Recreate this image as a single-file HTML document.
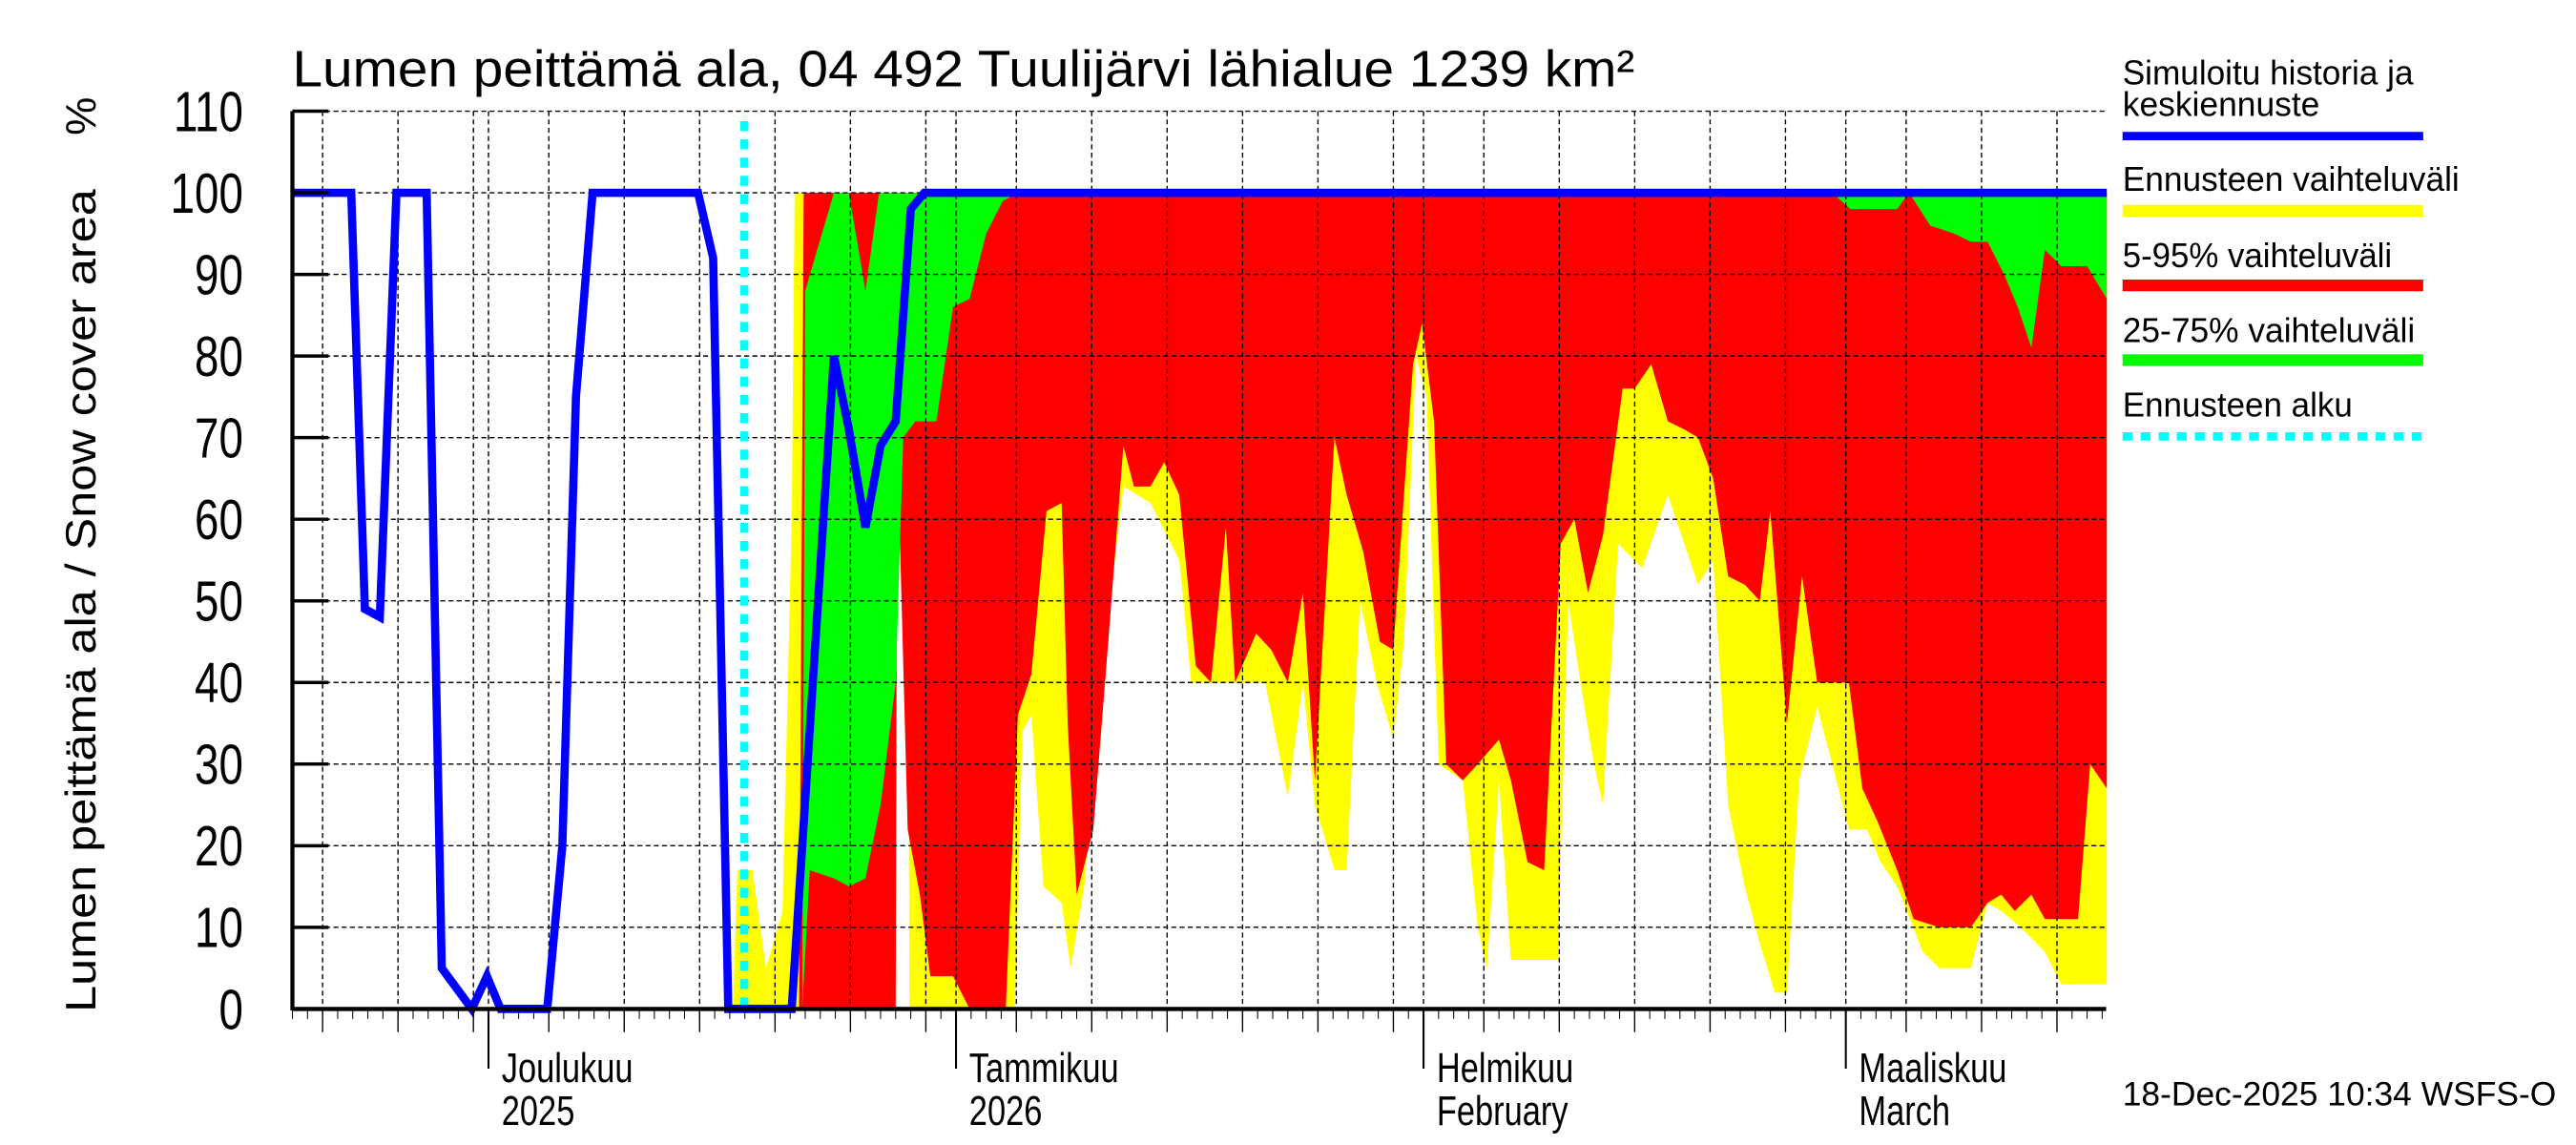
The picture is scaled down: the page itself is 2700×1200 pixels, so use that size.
<!DOCTYPE html>
<html><head><meta charset="utf-8"><style>
html,body{margin:0;padding:0;background:#fff;width:2700px;height:1200px;overflow:hidden}
svg{display:block}
text{font-family:"Liberation Sans",sans-serif;fill:#000}
</style></head><body>
<svg id="chart" width="2700" height="1200" viewBox="0 0 1568 690" preserveAspectRatio="none" xmlns="http://www.w3.org/2000/svg">
<g id="fills"></g>
<g id="grid"></g>
<g id="lines"></g>
<g id="axes"></g>
<text x="178" y="52" font-size="31" textLength="817" lengthAdjust="spacingAndGlyphs">Lumen peittämä ala, 04 492 Tuulijärvi lähialue 1239 km²</text>
<text transform="translate(58,362) rotate(-90)" text-anchor="middle" font-size="26" textLength="496" lengthAdjust="spacingAndGlyphs">Lumen peittämä ala / Snow cover area</text>
<text transform="translate(58,70) rotate(-90)" text-anchor="middle" font-size="26">%</text>
<g>
<text x="1292" y="51" font-size="21" textLength="177" lengthAdjust="spacingAndGlyphs">Simuloitu historia ja</text>
<text x="1292" y="70" font-size="21" textLength="120" lengthAdjust="spacingAndGlyphs">keskiennuste</text>
<line x1="1292" y1="82" x2="1475" y2="82" stroke="#0000ff" stroke-width="5"/>
<text x="1292" y="115" font-size="21" textLength="205" lengthAdjust="spacingAndGlyphs">Ennusteen vaihteluväli</text>
<line x1="1292" y1="127" x2="1475" y2="127" stroke="#ffff00" stroke-width="7"/>
<text x="1292" y="161" font-size="21" textLength="164" lengthAdjust="spacingAndGlyphs">5-95% vaihteluväli</text>
<line x1="1292" y1="172" x2="1475" y2="172" stroke="#ff0000" stroke-width="7"/>
<text x="1292" y="206" font-size="21" textLength="178" lengthAdjust="spacingAndGlyphs">25-75% vaihteluväli</text>
<line x1="1292" y1="217" x2="1475" y2="217" stroke="#00ff00" stroke-width="7"/>
<text x="1292" y="251" font-size="21" textLength="140" lengthAdjust="spacingAndGlyphs">Ennusteen alku</text>
<line x1="1292" y1="263" x2="1475" y2="263" stroke="#00ffff" stroke-width="5" stroke-dasharray="6,5"/>
</g>
<text x="1292" y="666" font-size="20" textLength="264" lengthAdjust="spacingAndGlyphs">18-Dec-2025 10:34 WSFS-O</text>
</svg>
<script>
const yTicks=[0,10,20,30,40,50,60,70,80,90,100,110];
const monthDays=[13,44,75,103];
const monthLabels1=["Joulukuu","Tammikuu","Helmikuu","Maaliskuu"];
const monthLabels2=["2025","2026","February","March"];
const gridDays=[2,7,12,17,22,27,32,37,42,48,53,58,63,68,73,79,84,89,94,99,107,112,117];
const forecastStartDay=29.96;
const histDays=[0,3.9,4.8,5.8,6.9,8.9,9.9,11.9,12.9,13.8,16.9,17.9,18.8,19.9,26.9,27.9,28.9,33.1,35.9,36.9,38.0,39.0,40.0,41.0,41.9,120.3];
const histVals=[100,100,49,48,100,100,5,0,4,0,0,20,75,100,100,92,0,0,80,71,59,69,72,98,100,100];
const maxDays=[29.2,29.5,30.5,31.4,32.5,33.1,33.3,120.3];
const maxVals=[0,17,17,5,12,60,100,100];
const minDays=[29.2,40.0,40.1,40.8,40.9,47.9,48.4,49.0,49.8,51.0,51.6,52.5,53.6,55.1,56.9,58.8,59.6,64.5,66.0,67.0,67.8,69.1,69.9,70.8,71.9,73.0,73.7,74.5,75.2,76.0,77.6,78.6,79.2,80.0,80.8,83.9,84.6,85.4,86.3,86.9,87.9,89.5,91.2,93.2,94.2,95.2,96.3,97.3,98.3,99.1,99.9,101.1,102.1,103.2,104.4,105.3,106.4,108.1,109.2,111.3,112.4,113.3,114.6,116.2,117.3,120.3];
const minVals=[0,0,100,100,0,0,34,36,15,13,5,15,40,64,62,55,40,40,26,40,25,17,17,50,40,33,45,80,75,30,28,10,5,28,6,6,50,40,30,25,57,54,63,52,55,25,15,8,2,2,28,37,30,22,22,18,15,7,5,5,13,12,10,7,3,3];
const p95Days=[33.6,33.9,120.3];
const p95Vals=[0,100,100];
const p5Days=[33.6,40.0,40.1,40.8,41.6,42.3,43.8,44.9,47.3,48.1,49.0,50.0,51.0,51.4,52.0,53.1,54.1,55.1,55.8,56.9,57.8,58.8,59.9,60.9,61.9,62.5,63.9,64.9,66.0,67.0,67.8,69.1,69.9,71.0,72.1,73.0,73.7,74.3,74.9,75.7,76.5,77.6,78.6,80.0,80.8,81.9,83.0,84.1,85.0,85.9,86.9,88.2,89.0,90.1,91.2,92.3,93.2,94.2,95.2,96.3,97.3,98.0,99.1,100.1,101.1,103.2,104.1,105.1,106.4,107.5,109.2,111.3,112.4,113.3,114.2,115.3,116.2,118.4,119.2,120.3];
const p5Vals=[0,0,70,22,14,4,4,0,0,36,41,61,62,35,14,22,45,69,64,64,67,63,42,40,59,40,46,44,40,51,28,70,63,56,45,44,63,79,84,72,30,28,30,33,28,18,17,57,60,51,58,76,76,79,72,71,70,65,53,52,50,61,35,53,40,40,27,23,17,11,10,10,13,14,12,14,11,11,30,27];
const p75Days=[33.8,34.0,35.9,36.9,38.0,38.9,120.3];
const p75Vals=[0,88,100,100,88,100,100];
const p25Days=[33.8,34.3,35.9,36.9,38.0,39.0,40.0,40.5,41.3,42.7,43.8,44.9,46.0,47.1,48.1,102.1,103.3,104.8,106.4,107.2,108.6,110.2,111.3,112.4,113.5,114.4,115.3,116.2,117.3,119.0,120.3];
const p25Vals=[0,17,16,15,16,25,40,70,72,72,86,87,95,99,100,100,98,98,98,100,96,95,94,94,90,86,81,93,91,91,87];

const NS="http://www.w3.org/2000/svg";
const X0=178,X1=1282,Y0=608,YT=67;
const xS=d=>X0+d*9.18;
const yS=v=>Y0-v*(Y0-YT)/110;
function mk(tag,attrs,parent){const e=document.createElementNS(NS,tag);for(const k in attrs)e.setAttribute(k,attrs[k]);parent.appendChild(e);return e;}
const fills=document.getElementById('fills'),grid=document.getElementById('grid'),lines=document.getElementById('lines'),axes=document.getElementById('axes');
function band(ud,uv,ld,lv,color,name){
  let pts=ud.map((d,i)=>xS(d).toFixed(1)+','+yS(uv[i]).toFixed(1));
  for(let i=ld.length-1;i>=0;i--)pts.push(xS(ld[i]).toFixed(1)+','+yS(lv[i]).toFixed(1));
  const p=mk('polygon',{points:pts.join(' '),fill:color},fills);
  
  
}
band(maxDays,maxVals,minDays,minVals,'#ffff00','band-min-max');
band(p95Days,p95Vals,p5Days,p5Vals,'#ff0000','band-5-95');
band(p75Days,p75Vals,p25Days,p25Vals,'#00ff00','band-25-75');
yTicks.forEach(v=>{
  if(v>0){const l=mk('line',{x1:X0,x2:X1,y1:yS(v),y2:yS(v),stroke:'#000','stroke-width':0.8,'stroke-dasharray':'3,2'},grid);
  
  }
  const t=mk('line',{x1:X0,x2:X0+22,y1:yS(v),y2:yS(v),stroke:'#000','stroke-width':2},axes);
  
  
  const tx=mk('text',{x:148,y:yS(v)+12,'text-anchor':'end','font-size':34,transform:'translate(148,0) scale(0.78,1) translate(-148,0)'},axes);
  tx.textContent=v;
  
  
});
gridDays.forEach(d=>{
  const l=mk('line',{x1:xS(d),x2:xS(d),y1:YT,y2:Y0,stroke:'#000','stroke-width':0.8,'stroke-dasharray':'3,2'},grid);
  
  
  const t=mk('line',{x1:xS(d),x2:xS(d),y1:Y0,y2:622,stroke:'#000','stroke-width':0.8},axes);
  
  
});
for(let d=0;d<=120;d++){
  const t=mk('line',{x1:xS(d),x2:xS(d),y1:Y0,y2:614,stroke:'#000','stroke-width':0.6},axes);
  
  
}
monthDays.forEach((d,i)=>{
  const l=mk('line',{x1:xS(d),x2:xS(d),y1:YT,y2:Y0,stroke:'#000','stroke-width':0.8,'stroke-dasharray':'3,2'},grid);
  
  
  const t=mk('line',{x1:xS(d),x2:xS(d),y1:Y0,y2:644,stroke:'#000','stroke-width':1.2},axes);
  
  
  const x=xS(d)+8;
  const a=mk('text',{x:x,y:652,'font-size':25,transform:`translate(${x},0) scale(0.8,1) translate(${-x},0)`},axes);
  a.textContent=monthLabels1[i];
  
  
  const b=mk('text',{x:x,y:678,'font-size':25,transform:`translate(${x},0) scale(0.8,1) translate(${-x},0)`},axes);
  b.textContent=monthLabels2[i];
  
  
});
const fs=mk('line',{x1:xS(forecastStartDay),x2:xS(forecastStartDay),y1:73,y2:Y0,stroke:'#00ffff','stroke-width':5,'stroke-dasharray':'6,5'},lines);


const hl=mk('polyline',{points:histDays.map((d,i)=>xS(d).toFixed(1)+','+yS(histVals[i]).toFixed(1)).join(' '),fill:'none',stroke:'#0000ff','stroke-width':5,'stroke-linejoin':'miter'},lines);


const ya=mk('line',{x1:X0,x2:X0,y1:YT,y2:Y0+1,stroke:'#000','stroke-width':2.5},axes);


const xa=mk('line',{x1:X0,x2:X1,y1:Y0,y2:Y0,stroke:'#000','stroke-width':2.5},axes);


</script>
</body></html>
